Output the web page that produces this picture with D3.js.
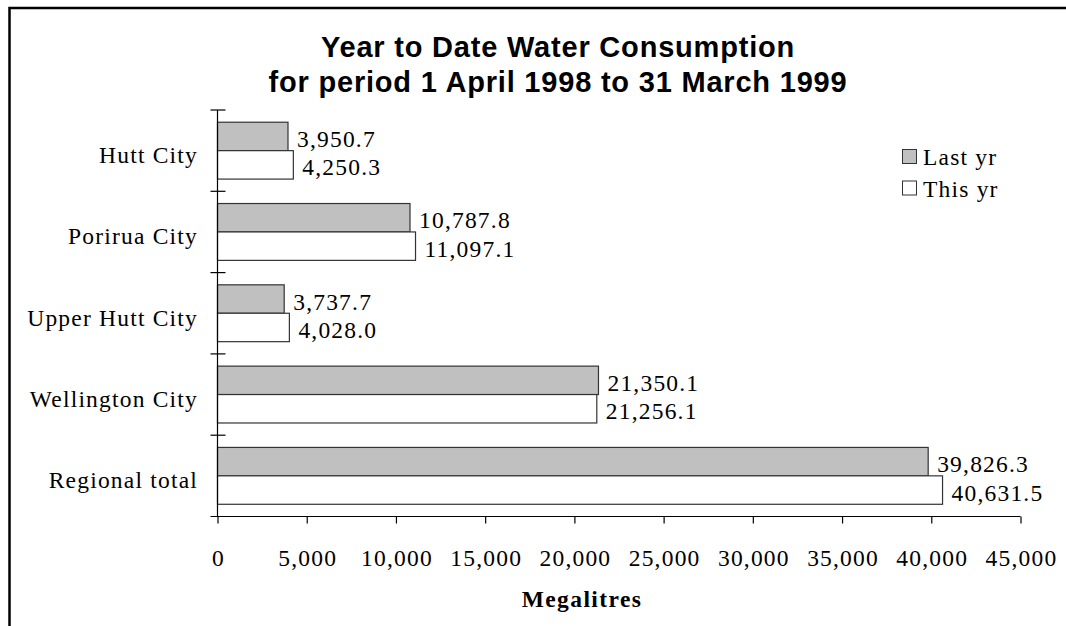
<!DOCTYPE html>
<html>
<head>
<meta charset="utf-8">
<script src="https://cdn.jsdelivr.net/npm/d3@7"></script>
<style>
  body { margin: 0; background: #fff; }
  svg { display: block; }
</style>
</head>
<body>
<div id="chart"></div>
<script>
const categories = ['Hutt City', 'Porirua City', 'Upper Hutt City', 'Wellington City', 'Regional total'];
const seriesNames = ['Last yr', 'This yr'];
const lastYr = [3950.7, 10787.8, 3737.7, 21350.1, 39826.3];
const thisYr = [4250.3, 11097.1, 4028.0, 21256.1, 40631.5];
const xTicks = [0, 5000, 10000, 15000, 20000, 25000, 30000, 35000, 40000, 45000];
const titleLines = ['Year to Date Water Consumption', 'for period 1 April 1998 to 31 March 1999'];

const width = 1066;
const height = 626;
const fills = { 'Last yr': '#c0c0c0', 'This yr': '#ffffff' };
const serif = '"Liberation Serif", "Times New Roman", serif';
const sans = '"Liberation Sans", Arial, sans-serif';
const labelSize = '23.5px';
const labelSpacing = '1.2px';

const svg = d3.select('#chart')
  .append('svg')
  .attr('width', width)
  .attr('height', height);

// outer frame (clipped on right/bottom like the original)
svg.append('rect')
  .attr('x', 9.5)
  .attr('y', 8)
  .attr('width', 1080)
  .attr('height', 640)
  .attr('fill', 'none')
  .attr('stroke', '#000')
  .attr('stroke-width', 2.5);

const xScale = d3.scaleLinear()
  .domain([0, 45000])
  .range([217.5, 1020.5]);

const yScale = d3.scaleBand()
  .domain(categories)
  .range([110, 516.5]);

const ySub = d3.scaleBand()
  .domain(seriesNames)
  .range([0, yScale.bandwidth()])
  .paddingOuter(0.43);

const rows = categories.map((c, i) => ({ cat: c, 'Last yr': lastYr[i], 'This yr': thisYr[i] }));

// title
svg.append('text')
  .attr('x', 557)
  .attr('y', 57)
  .attr('text-anchor', 'middle')
  .style('font-family', sans)
  .style('font-weight', 'bold')
  .style('font-size', '29px')
  .style('letter-spacing', '0.8px')
  .selectAll('tspan')
  .data(titleLines)
  .enter()
  .append('tspan')
  .attr('x', 558)
  .attr('dy', (d, i) => i === 0 ? 0 : 35)
  .text(d => d);

// bars
const groups = svg.selectAll('.cat')
  .data(rows)
  .enter()
  .append('g')
  .attr('class', 'cat')
  .attr('transform', d => `translate(0, ${yScale(d.cat)})`);

groups.selectAll('rect')
  .data(d => seriesNames.map(s => ({ s, v: d[s] })))
  .enter()
  .append('rect')
  .attr('x', xScale(0))
  .attr('y', d => ySub(d.s))
  .attr('width', d => xScale(d.v) - xScale(0))
  .attr('height', ySub.bandwidth())
  .attr('fill', d => fills[d.s])
  .attr('stroke', '#333')
  .attr('stroke-width', 1.2);

groups.selectAll('.val')
  .data(d => seriesNames.map(s => ({ s, v: d[s] })))
  .enter()
  .append('text')
  .attr('class', 'val')
  .attr('x', d => xScale(d.v) + 9)
  .attr('y', d => ySub(d.s) + ySub.bandwidth() / 2 + 10.5)
  .style('font-family', serif)
  .style('font-size', labelSize)
  .style('letter-spacing', labelSpacing)
  .attr('fill', '#000')
  .text(d => d3.format(',.1f')(d.v));

// x axis
const xAxis = svg.append('g')
  .attr('transform', `translate(0, 516.5)`)
  .call(d3.axisBottom(xScale).tickValues(xTicks).tickSize(7).tickFormat(d3.format(',')));
xAxis.select('.domain').attr('stroke', '#000').attr('stroke-width', 1.2).attr('d', `M${xScale(0) - 7},0H${xScale(45000)}`);
xAxis.selectAll('.tick line').attr('stroke', '#000').attr('stroke-width', 1.2);
xAxis.selectAll('.tick text')
  .attr('y', 49)
  .attr('dy', 0)
  .attr('dx', 0.5)
  .style('font-family', serif)
  .style('font-size', labelSize)
  .style('letter-spacing', labelSpacing)
  .attr('fill', '#000');

// y axis line + crossing ticks at category boundaries
svg.append('line')
  .attr('x1', xScale(0))
  .attr('x2', xScale(0))
  .attr('y1', yScale.range()[0])
  .attr('y2', yScale.range()[1])
  .attr('stroke', '#000')
  .attr('stroke-width', 1.2);

const boundaries = categories.map(c => yScale(c));
svg.selectAll('.ytick')
  .data(boundaries)
  .enter()
  .append('line')
  .attr('class', 'ytick')
  .attr('x1', xScale(0) - 7)
  .attr('x2', xScale(0) + 8)
  .attr('y1', d => d)
  .attr('y2', d => d)
  .attr('stroke', '#000')
  .attr('stroke-width', 1.2);

svg.selectAll('.ylabel')
  .data(categories)
  .enter()
  .append('text')
  .attr('class', 'ylabel')
  .attr('x', 198)
  .attr('y', d => yScale(d) + yScale.bandwidth() / 2 + 12.5)
  .attr('text-anchor', 'end')
  .style('font-family', serif)
  .style('font-size', labelSize)
  .style('letter-spacing', labelSpacing)
  .text(d => d);

// x axis title
svg.append('text')
  .attr('x', 582)
  .attr('y', 607)
  .attr('text-anchor', 'middle')
  .style('font-family', serif)
  .style('font-weight', 'bold')
  .style('font-size', labelSize)
  .style('letter-spacing', '1.4px')
  .text('Megalitres');

// legend
const legend = svg.selectAll('.legend')
  .data(seriesNames)
  .enter()
  .append('g')
  .attr('class', 'legend')
  .attr('transform', (d, i) => `translate(902.5, ${149.5 + i * 31.5})`);

legend.append('rect')
  .attr('width', 14)
  .attr('height', 14)
  .attr('fill', d => fills[d])
  .attr('stroke', '#333')
  .attr('stroke-width', 1);

legend.append('text')
  .attr('x', 20.5)
  .attr('y', 15.5)
  .style('font-family', serif)
  .style('font-size', labelSize)
  .style('letter-spacing', labelSpacing)
  .text(d => d);
</script>
</body>
</html>
